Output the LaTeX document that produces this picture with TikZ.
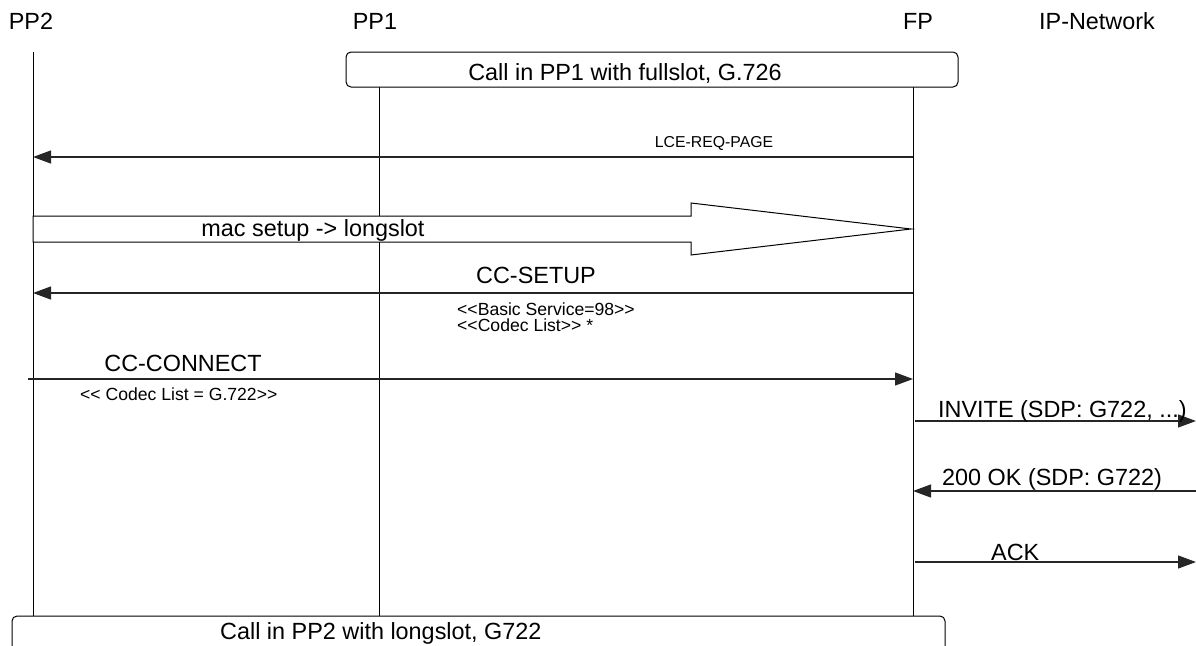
\documentclass[tikz,border=0pt]{standalone}
\usepackage{fontspec}
\setmainfont{Liberation Sans}
\usetikzlibrary{arrows.meta,calc}
\begin{document}
\begin{tikzpicture}[x=1pt,y=-1pt,
  big/.style={font=\fontsize{23.4}{27}\selectfont, inner sep=0pt},
  mid/.style={font=\fontsize{15.8}{19}\selectfont, inner sep=0pt},
  small/.style={font=\fontsize{17.6}{20}\selectfont, inner sep=0pt},
  lifeline/.style={line width=1pt, black},
  msg/.style={line width=1.2pt, black!85, -{Triangle[length=18pt,width=13pt]}},
  callbox/.style={draw, line width=1pt, fill=white, rounded corners=5pt}]
\useasboundingbox (0,0) rectangle (1196,645);
\clip (0,0) rectangle (1196,645);
% headers
\node[big, anchor=base] (hPP2) at (31,29.3) {PP2};
\node[big, anchor=base] (hPP1) at (375,29.3) {PP1};
\node[big, anchor=base] (hFP) at (918,29.3) {FP};
\node[big, anchor=base] (hIP) at (1097,29.3) {IP-Network};
% lifelines
\coordinate (pp2t) at (33,52);  \coordinate (pp2b) at (33,616);
\coordinate (pp1t) at (379,52); \coordinate (pp1b) at (379,616);
\coordinate (fpt) at (913,52);  \coordinate (fpb) at (913,616);
\coordinate (ipt) at (1196,52);
\draw[lifeline] (pp2t) -- (pp2b);
\draw[lifeline] (pp1t) -- (pp1b);
\draw[lifeline] (fpt) -- (fpb);
% top box
\draw[callbox] (346,52) rectangle (958,87);
\node[big, anchor=base] (topbox) at (625,80.5) {Call in PP1 with fullslot, G.726};
% rows
\coordinate (r1) at (0,157);
\coordinate (r3) at (0,293);
\coordinate (r4) at (0,379);
\coordinate (r5) at (0,421);
\coordinate (r6) at (0,491);
\coordinate (r7) at (0,562);
% LCE-REQ-PAGE
\draw[msg] (fpt |- r1) -- (pp2t |- r1);
\node[mid, anchor=base] (l1) at (714,147) {LCE-REQ-PAGE};
% big arrow
\draw[line width=1pt, fill=white] (pp2t |- 0,216) -- (691,216) -- (691,203) -- (911,229) -- (691,255) -- (691,242) -- (pp2t |- 0,242) -- cycle;
\node[big, anchor=base] (l2) at (313,236.5) {mac setup -> longslot};
% CC-SETUP
\draw[msg] (fpt |- r3) -- (pp2t |- r3);
\node[big, anchor=base] (l3) at (536,283) {CC-SETUP};
\node[small, anchor=base west] (l3a) at (457,315) {<\kern0pt<Basic Service=98>\kern0pt>};
\node[small, anchor=base west] (l3b) at (457,331) {<\kern0pt<Codec List>\kern0pt> *};
% CC-CONNECT
\coordinate (c4) at (28,379);
\draw[msg] (c4) -- (fpt |- r4);
\node[big, anchor=base] (l4) at (183,371) {CC-CONNECT};
\node[small, anchor=base west] (l4a) at (80,400) {<\kern0pt< Codec List = G.722>\kern0pt>};
% INVITE
\draw[msg] ($(fpt |- r5)+(2,0)$) -- (ipt |- r5);
\node[big, anchor=base west] (l5) at (938,417) {INVITE (SDP: G722, ...)};
% 200 OK
\draw[msg] (ipt |- r6) -- (fpt |- r6);
\node[big, anchor=base west] (l6) at (942,485) {200 OK (SDP: G722)};
% ACK
\draw[msg] ($(fpt |- r7)+(2,0)$) -- (ipt |- r7);
\node[big, anchor=base west] (l7) at (991,560) {ACK};
% bottom box
\draw[callbox] (12,616) rectangle (945,680);
\node[big, anchor=base west] (botbox) at (220,639.5) {Call in PP2 with longslot, G722};
\end{tikzpicture}
\end{document}
